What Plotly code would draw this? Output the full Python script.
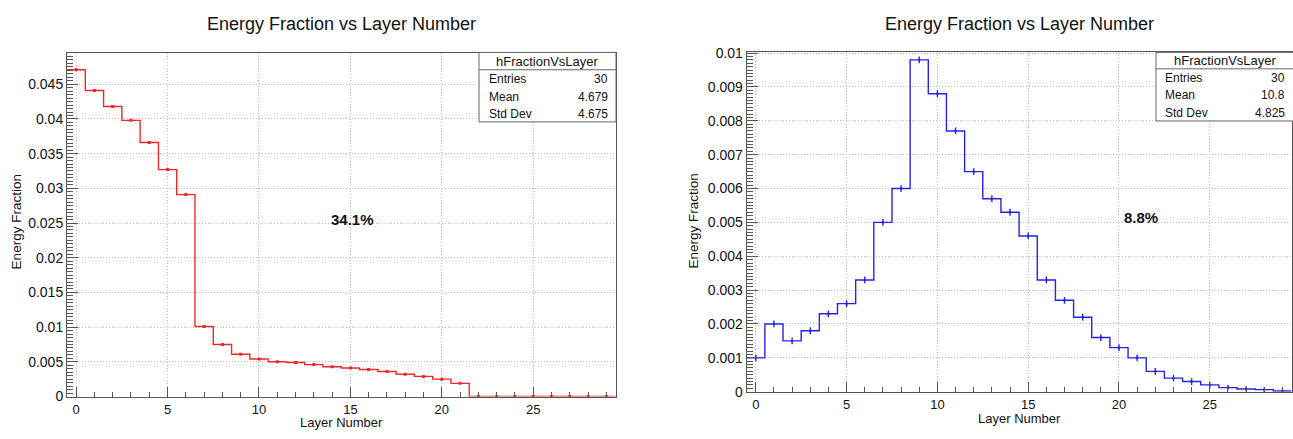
import plotly.graph_objects as go

W, H = 1293, 439

# ---------------- data ----------------
layers = list(range(30))
left_fraction = [0.0471, 0.0441, 0.0418, 0.0398, 0.0366, 0.0327, 0.0291, 0.0101, 0.0075, 0.0061,
                 0.0054, 0.0050, 0.0049, 0.0046, 0.0043, 0.0041, 0.0039, 0.0036, 0.0032, 0.0029,
                 0.0025, 0.0019, 0.0, 0.0, 0.0, 0.0, 0.0, 0.0, 0.0, 0.0]
left_error = [0.00012, 0.00012, 0.00012, 0.00011, 0.00011, 0.0001, 0.0001, 0.00008, 0.00007, 0.00006,
              0.00006, 0.00006, 0.00006, 0.00006, 0.00006, 0.00006, 0.00006, 0.00006, 0.00005, 0.00005,
              0.00005, 0.00005, 0.0, 0.0, 0.0, 0.0, 0.0, 0.0, 0.0, 0.0]
right_fraction = [0.0010, 0.0020, 0.0015, 0.0018, 0.0023, 0.0026, 0.0033, 0.0050, 0.0060, 0.0098,
                  0.0088, 0.0077, 0.0065, 0.0057, 0.0053, 0.0046, 0.0033, 0.0027, 0.0022, 0.0016,
                  0.0013, 0.0010, 0.0006, 0.0004, 0.0003, 0.0002, 0.00012, 0.00008, 0.00006, 0.00002]
right_error = [0.0001, 0.0001, 0.0001, 0.0001, 0.0001, 0.0001, 0.0001, 0.0001, 0.0001, 0.0001,
               0.0001, 0.0001, 0.0001, 0.0001, 0.0001, 0.0001, 0.0001, 0.0001, 0.0001, 0.0001,
               0.0001, 0.0001, 0.0001, 0.0001, 0.0001, 0.0001, 0.00008, 0.00008, 0.00007, 0.00007]

titles = ["Energy Fraction vs Layer Number", "Energy Fraction vs Layer Number"]
x_title = "Layer Number"
y_title = "Energy Fraction"
stats_name = "hFractionVsLayer"
stats_labels = ["Entries", "Mean", "Std Dev"]
left_stats = ["30", "4.679", "4.675"]
right_stats = ["30", "10.8", "4.825"]
left_total = "34.1%"
right_total = "8.8%"

# ---------------- helpers ----------------
FONT = "Liberation Sans, Arial, sans-serif"
AX = "#555555"
GRID = "#bdbdbd"


def px(x):
    return x / W


def py(y):
    return 1 - y / H


def step_xy(vals):
    xs = [l - 0.5 for l in layers] + [layers[-1] + 0.5]
    ys = list(vals) + [vals[-1]]
    return xs, ys


fig = go.Figure()

RED = "#f02828"
BLUE = "#2424e6"

xs, ys = step_xy(left_fraction)
fig.add_trace(go.Scatter(x=xs, y=ys, mode="lines", line=dict(shape="hv", color=RED, width=1.4),
                         xaxis="x", yaxis="y", hoverinfo="skip", showlegend=False))
fig.add_trace(go.Scatter(x=layers, y=left_fraction, mode="markers",
                         marker=dict(symbol="square", size=3, color=RED),
                         error_y=dict(type="data", array=left_error, visible=True, color=RED,
                                      thickness=1.4, width=0),
                         xaxis="x", yaxis="y", showlegend=False))

xs, ys = step_xy(right_fraction)
fig.add_trace(go.Scatter(x=xs, y=ys, mode="lines", line=dict(shape="hv", color=BLUE, width=1.4),
                         xaxis="x2", yaxis="y2", hoverinfo="skip", showlegend=False))
fig.add_trace(go.Scatter(x=layers, y=right_fraction, mode="markers",
                         marker=dict(symbol="square", size=2, color=BLUE),
                         error_y=dict(type="data", array=right_error, visible=True, color=BLUE,
                                      thickness=1.4, width=0),
                         xaxis="x2", yaxis="y2", showlegend=False))


def xaxis_cfg(domain, anchor):
    return dict(domain=domain, anchor=anchor, range=[-0.5, 29.5], tick0=0, dtick=5,
                ticks="inside", ticklen=10, tickwidth=1, tickcolor=AX,
                showline=True, linecolor=AX, linewidth=1, mirror=True,
                showgrid=True, gridcolor=GRID, griddash="1px,2px", gridwidth=1,
                zeroline=False, tickfont=dict(family=FONT, size=13, color="#111"),
                ticklabelstandoff=1,
                minor=dict(dtick=1, tick0=0, ticks="inside", ticklen=5, tickcolor=AX, showgrid=False))


def yaxis_cfg(domain, anchor, rng, dt, mdt):
    return dict(domain=domain, anchor=anchor, range=rng, tick0=0, dtick=dt,
                ticks="inside", ticklen=11, tickwidth=1, tickcolor=AX,
                showline=True, linecolor=AX, linewidth=1, mirror=True,
                showgrid=True, gridcolor=GRID, griddash="1px,2px", gridwidth=1,
                zeroline=False, tickfont=dict(family=FONT, size=14, color="#111"),
                minor=dict(dtick=mdt, tick0=0, ticks="inside", ticklen=6, tickcolor=AX, showgrid=False))


L_X = [67, 615.5]
L_Y = [47.3, 403.3]
R_X = [746.7, 1291.5]
R_Y = [46.7, 398.3]

fig.update_layout(
    width=W, height=H, margin=dict(l=0, r=0, t=0, b=0),
    paper_bgcolor="white", plot_bgcolor="white",
    font=dict(family=FONT, color="#111"),
    xaxis=xaxis_cfg([px(L_X[0]), px(L_X[1])], "y"),
    yaxis=yaxis_cfg([py(L_Y[1]), py(L_Y[0])], "x", [0, 0.04955], 0.005, 0.0005),
    xaxis2=xaxis_cfg([px(R_X[0]), px(R_X[1])], "y2"),
    yaxis2=yaxis_cfg([py(R_Y[1]), py(R_Y[0])], "x2", [0, 0.01003], 0.001, 0.0001),
)

ann = []
shapes = []
# titles
for xc, t in [(341, titles[0]), (1019, titles[1])]:
    ann.append(dict(x=px(xc), y=py(18), text=t, showarrow=False, xref="paper", yref="paper",
                    font=dict(family=FONT, size=18, color="#111"), xanchor="center", yanchor="middle"))
# axis titles
for xc, yb in [(341, 439), (1019, 435)]:
    ann.append(dict(x=px(xc), y=py(yb), text=x_title, showarrow=False, xref="paper", yref="paper",
                    font=dict(family=FONT, size=13, color="#111"), xanchor="center", yanchor="bottom",
                    borderpad=0))
for xc, yc in [(16, 223), (693, 222)]:
    ann.append(dict(x=px(xc), y=py(yc), text=y_title, showarrow=False, xref="paper", yref="paper",
                    textangle=-90, font=dict(family=FONT, size=13.5, color="#111"),
                    xanchor="center", yanchor="middle"))
# totals
ann.append(dict(x=px(352), y=py(220), text="<b>" + left_total + "</b>", showarrow=False,
                xref="paper", yref="paper", xanchor="center", yanchor="middle",
                font=dict(family=FONT, size=15, color="#111")))
ann.append(dict(x=px(1141), y=py(218), text="<b>" + right_total + "</b>", showarrow=False,
                xref="paper", yref="paper", xanchor="center", yanchor="middle",
                font=dict(family=FONT, size=15, color="#111")))

# stats boxes
boxes = [
    dict(x0=479, x1=616, y0=47, y1=119, div=65, title_y=56, rows=[75, 92.7, 110.7],
         lx=486.5, rx=609.5, tx=547.5, vals=left_stats),
    dict(x0=1156, x1=1296, y0=47, y1=118, div=64, title_y=55.5, rows=[73.5, 91.5, 109.5],
         lx=1163, rx=1286.5, tx=1225, vals=right_stats),
]
for b in boxes:
    shapes.append(dict(type="rect", xref="paper", yref="paper", x0=px(b["x0"]), x1=px(b["x1"]),
                       y0=py(b["y1"]), y1=py(b["y0"]), line=dict(color="#666", width=1),
                       fillcolor="white", layer="above"))
    shapes.append(dict(type="line", xref="paper", yref="paper", x0=px(b["x0"]), x1=px(b["x1"]),
                       y0=py(b["div"]), y1=py(b["div"]), line=dict(color="#666", width=1), layer="above"))
    ann.append(dict(x=px(b["tx"]), y=py(b["title_y"]), text=stats_name,
                    showarrow=False, xref="paper", yref="paper",
                    font=dict(family=FONT, size=13, color="#111"), xanchor="center", yanchor="middle"))
    for lab, val, ry in zip(stats_labels, b["vals"], b["rows"]):
        ann.append(dict(x=px(b["lx"]), y=py(ry), text=lab, showarrow=False, xref="paper", yref="paper",
                        font=dict(family=FONT, size=12, color="#111"), xanchor="left", yanchor="middle"))
        ann.append(dict(x=px(b["rx"]), y=py(ry), text=val, showarrow=False, xref="paper", yref="paper",
                        font=dict(family=FONT, size=12, color="#111"), xanchor="right", yanchor="middle"))

fig.update_layout(annotations=ann, shapes=shapes)
fig.write_html("out.html")
